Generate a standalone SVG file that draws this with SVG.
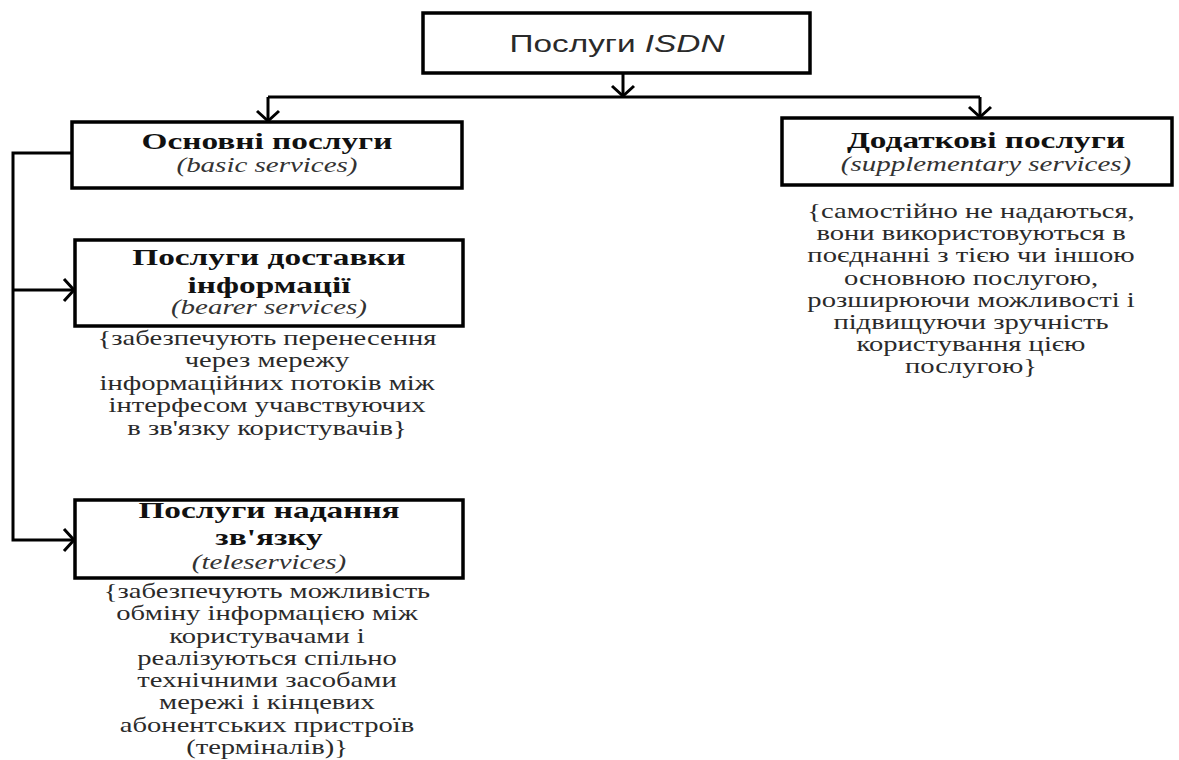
<svg xmlns="http://www.w3.org/2000/svg" width="1179" height="760" viewBox="0 0 1179 760">
  <style>
    .box { fill: #fff; stroke: #000; stroke-width: 3.5; }
    .wire { fill: none; stroke: #000; stroke-width: 3; }
    .head { font-family: "Liberation Sans", Arial, sans-serif; font-size: 23px; fill: #2a2a2a; text-anchor: middle; }
    .ttl { font-family: "Liberation Serif", "Times New Roman", serif; font-weight: bold; font-size: 23px; fill: #111; text-anchor: middle; }
    .en { font-family: "Liberation Serif", "Times New Roman", serif; font-style: italic; font-size: 20px; fill: #333; text-anchor: middle; }
    .desc { font-family: "Liberation Serif", "Times New Roman", serif; font-size: 20px; fill: #2a2a2a; text-anchor: middle; }
  </style>
  <defs>
    <marker id="chev" markerUnits="userSpaceOnUse" markerWidth="1" markerHeight="1" orient="auto" overflow="visible">
      <path d="M-11,-11 L-1,0 L-11,11" fill="none" stroke="#000" stroke-width="3"/>
    </marker>
  </defs>

  <!-- connectors -->
  <g id="connectors">
    <path class="wire" d="M623,73 V97" marker-end="url(#chev)"/>
    <path class="wire" d="M268,97 H980"/>
    <path class="wire" d="M268,97 V122" marker-end="url(#chev)"/>
    <path class="wire" d="M980,97 V118" marker-end="url(#chev)"/>
    <path class="wire" d="M72,153 H13 V540 H75" marker-end="url(#chev)"/>
    <path class="wire" d="M13,290 H75" marker-end="url(#chev)"/>
  </g>

  <!-- root -->
  <g id="isdn">
    <rect class="box" x="423" y="13" width="387" height="60"/>
    <g transform="translate(617,0) scale(1.45,1)">
      <text class="head" x="0" y="52">Послуги <tspan font-style="italic">ISDN</tspan></text>
    </g>
  </g>

  <!-- basic services -->
  <g id="basic">
    <rect class="box" x="72" y="122" width="390" height="66"/>
    <g transform="translate(267,0) scale(1.45,1)">
      <text class="ttl" x="0" y="149">Основні послуги</text>
      <text class="en" x="0" y="172">(basic services)</text>
    </g>
  </g>

  <!-- bearer services -->
  <g id="bearer">
    <rect class="box" x="75" y="240" width="388" height="86"/>
    <g transform="translate(269,0) scale(1.45,1)">
      <text class="ttl" x="0" y="265">Послуги доставки</text>
      <text class="ttl" x="0" y="293">інформації</text>
      <text class="en" x="0" y="314">(bearer services)</text>
    </g>
    <g transform="translate(267,0) scale(1.43,1)">
      <text class="desc" x="0" y="345">{забезпечують перенесення</text>
      <text class="desc" x="0" y="367.5">через мережу</text>
      <text class="desc" x="0" y="390">інформаційних потоків між</text>
      <text class="desc" x="0" y="412.5">інтерфесом учавствуючих</text>
      <text class="desc" x="0" y="435">в зв'язку користувачів}</text>
    </g>
  </g>

  <!-- teleservices -->
  <g id="tele">
    <rect class="box" x="75" y="500" width="388" height="78"/>
    <g transform="translate(269,0) scale(1.45,1)">
      <text class="ttl" x="0" y="518">Послуги надання</text>
      <text class="ttl" x="0" y="545">зв'язку</text>
      <text class="en" x="0" y="569">(teleservices)</text>
    </g>
    <g transform="translate(267,0) scale(1.43,1)">
      <text class="desc" x="0" y="598">{забезпечують можливість</text>
      <text class="desc" x="0" y="620.3">обміну інформацією між</text>
      <text class="desc" x="0" y="642.6">користувачами і</text>
      <text class="desc" x="0" y="664.9">реалізуються спільно</text>
      <text class="desc" x="0" y="687.2">технічними засобами</text>
      <text class="desc" x="0" y="709.5">мережі і кінцевих</text>
      <text class="desc" x="0" y="731.8">абонентських пристроїв</text>
      <text class="desc" x="0" y="754">(терміналів)}</text>
    </g>
  </g>

  <!-- supplementary services -->
  <g id="supplementary">
    <rect class="box" x="782" y="118" width="390" height="67"/>
    <g transform="translate(986,0) scale(1.45,1)">
      <text class="ttl" x="0" y="148">Додаткові послуги</text>
      <text class="en" x="0" y="171">(supplementary services)</text>
    </g>
    <g transform="translate(971,0) scale(1.43,1)">
      <text class="desc" x="0" y="218">{самостійно не надаються,</text>
      <text class="desc" x="0" y="240.2">вони використовуються в</text>
      <text class="desc" x="0" y="262.4">поєднанні з тією чи іншою</text>
      <text class="desc" x="0" y="284.6">основною послугою,</text>
      <text class="desc" x="0" y="306.8">розширюючи можливості і</text>
      <text class="desc" x="0" y="329">підвищуючи зручність</text>
      <text class="desc" x="0" y="351.2">користування цією</text>
      <text class="desc" x="0" y="373.4">послугою}</text>
    </g>
  </g>
</svg>
